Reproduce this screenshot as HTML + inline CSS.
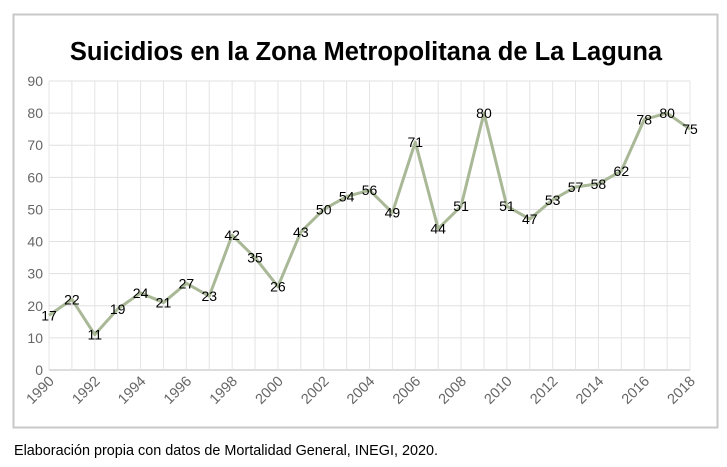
<!DOCTYPE html>
<html><head><meta charset="utf-8"><style>
body{margin:0;background:#fff;width:727px;height:462px;overflow:hidden;font-family:"Liberation Sans",sans-serif}
</style></head><body>
<svg width="727" height="462">
<rect x="13.5" y="14.5" width="704" height="413" fill="#fff" stroke="#c8c8c8" stroke-width="2"/>
<text x="366" y="60" text-anchor="middle" font-size="25.5" font-weight="bold" fill="#000">Suicidios en la Zona Metropolitana de La Laguna</text>
<g id="grid"></g><g id="axes"></g><g id="series"></g>
<text x="14" y="455" font-size="14.4" fill="#000">Elaboración propia con datos de Mortalidad General, INEGI, 2020.</text>
</svg>
<script>
const years=[1990,1991,1992,1993,1994,1995,1996,1997,1998,1999,2000,2001,2002,2003,2004,2005,2006,2007,2008,2009,2010,2011,2012,2013,2014,2015,2016,2017,2018];
const values=[17,22,11,19,24,21,27,23,42,35,26,43,50,54,56,49,71,44,51,80,51,47,53,57,58,62,78,80,75];
const yTicks=[0,10,20,30,40,50,60,70,80,90];
const NS="http://www.w3.org/2000/svg";
const x0=49,x1=690,y0=370,y1=81;
const xs=i=>x0+(x1-x0)*i/(years.length-1);
const ys=v=>y0-(y0-y1)*v/90;
function mk(t,a,p){const e=document.createElementNS(NS,t);for(const k in a)e.setAttribute(k,a[k]);p.appendChild(e);return e;}
const grid=document.getElementById('grid'),axes=document.getElementById('axes'),ser=document.getElementById('series');
yTicks.forEach(v=>{
 const l=mk('line',{x1:x0,x2:x1,y1:ys(v),y2:ys(v),stroke:v===0?'#bbb':'#e0e0e0','stroke-width':1},grid);
 
 
 const t=mk('text',{x:43,y:ys(v)+5,'text-anchor':'end','font-size':14,fill:'#666'},axes);t.textContent=v;
 
 
});
years.forEach((y,i)=>{
 const l=mk('line',{x1:xs(i),x2:xs(i),y1:y1,y2:y0,stroke:'#e4e4e4','stroke-width':1},grid);
 
 
 if(i%2===0){
  const cx=xs(i)+6,cy=y0+12;
  const t=mk('text',{x:cx,y:cy,'text-anchor':'end','font-size':14.5,fill:'#666',transform:`rotate(-45 ${cx} ${cy})`},axes);t.textContent=y;
  
  
 }
});
const pl=mk('polyline',{points:values.map((v,i)=>xs(i)+','+ys(v)).join(' '),fill:'none',stroke:'#a9b896','stroke-width':3,'stroke-linejoin':'round'},ser);


values.forEach((v,i)=>{
 const t=mk('text',{x:xs(i),y:ys(v)+5,'text-anchor':'middle','font-size':14,fill:'#000'},ser);t.textContent=v;
 
 
});
</script>
</body></html>
